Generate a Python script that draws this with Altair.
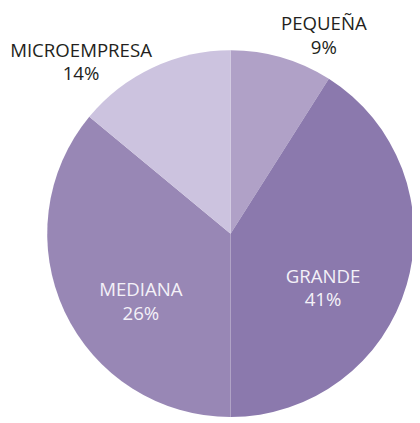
import altair as alt
import pandas as pd

categories = ["PEQUEÑA", "GRANDE", "MEDIANA", "MICROEMPRESA"]
shares = [9, 41, 36, 14]          # slice sizes
pct_labels = ["9%", "41%", "26%", "14%"]   # labels as printed
order = [1, 2, 3, 4]
colors = ["#b0a1c7", "#8b79ad", "#9887b5", "#ccc3df"]

df = pd.DataFrame({"cat": categories, "share": shares, "pct": pct_labels, "ord": order})

CX, CY, R = 227, 226, 187

pie = alt.Chart(df).mark_arc(radius=R, stroke=None).encode(
    theta=alt.Theta("share:Q", stack=True),
    order=alt.Order("ord:Q"),
    color=alt.Color("cat:N", scale=alt.Scale(domain=categories, range=colors), legend=None),
    x=alt.value(CX),
    y=alt.value(CY),
)

FONT = "Open Sans"

text_base = alt.Chart(df).transform_stack(
    stack="share", groupby=[], as_=["s0", "s1"], sort=[alt.SortField("ord")]
).transform_calculate(
    mid="(datum.s0 + datum.s1) / 2",
    label="[datum.cat, datum.pct]",
)

def lab(cat, radius, color, dx=0, dy=0):
    return text_base.transform_filter(alt.datum.cat == cat).mark_text(
        radius=radius, font=FONT, fontSize=19, lineHeight=24,
        align="center", baseline="middle", color=color, dx=dx, dy=dy
    ).encode(
        theta=alt.Theta("mid:Q", scale=alt.Scale(domain=[0, 100]), stack=None),
        text=alt.Text("label:N"),
        x=alt.value(CX),
        y=alt.value(CY),
    )

inner_col = "#f4f1f8"
outer_col = "#231f20"

chart = alt.layer(
    pie,
    lab("GRANDE", 94, inner_col, dx=4, dy=18),
    lab("MEDIANA", 100, inner_col, dx=-1, dy=15),
    lab("PEQUEÑA", 219, outer_col, dx=34, dy=-3),
    lab("MICROEMPRESA", 229, outer_col, dx=-55, dy=21),
).properties(
    width=412, height=415, padding=0,
    autosize=alt.AutoSizeParams(type="none")
).configure_view(stroke=None)

chart.save("out.html", embed_options={"renderer": "svg", "actions": False})
